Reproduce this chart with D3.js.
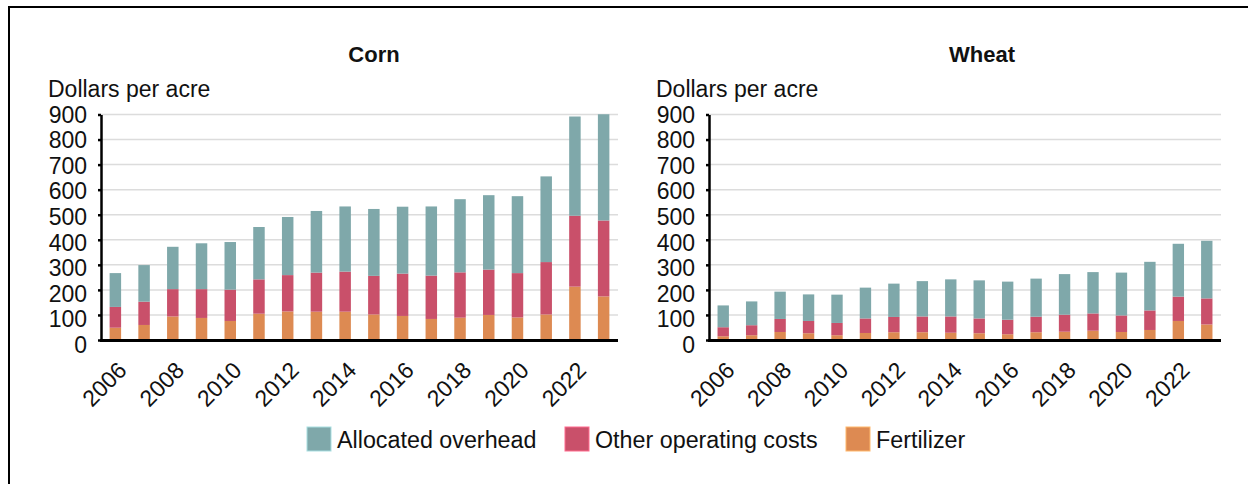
<!DOCTYPE html>
<meta charset="utf-8">
<style>
body { margin: 0; background: #fff; }
svg { display: block; font-family: "Liberation Sans", Arial, sans-serif; }
.grid line { stroke: #dcdcdc; stroke-width: 1.5px; }
.axis--y path, .axis--y line { stroke: #000; stroke-width: 2.5px; }
.baseline { stroke: #000; stroke-width: 3px; }
.ticklab, .xlab, .unit { font-size: 23px; fill: #111; }
.legend text { font-size: 23.3px; fill: #111; }
.title { font-size: 22px; font-weight: bold; fill: #111; }
</style>
<body>
<svg id="svg" width="1248" height="484"></svg>
<script src="https://cdnjs.cloudflare.com/ajax/libs/d3/7.8.5/d3.min.js"></script>
<script>

var years = [2006, 2007, 2008, 2009, 2010, 2011, 2012, 2013, 2014, 2015, 2016, 2017, 2018, 2019, 2020, 2021, 2022, 2023];
var yearLabels = [2006, 2008, 2010, 2012, 2014, 2016, 2018, 2020, 2022];
var yTicks = [0, 100, 200, 300, 400, 500, 600, 700, 800, 900];

var series = ["Fertilizer", "Other operating costs", "Allocated overhead"];
var legendOrder = ["Allocated overhead", "Other operating costs", "Fertilizer"];
var colors = ["#dd8a52", "#c9506a", "#7fa8aa"];

// corn, dollars per acre
var cornFertilizer = [49, 60, 94, 88, 76, 105, 114, 113, 113, 102, 96, 84, 89, 100, 90, 102, 213, 174];
var cornOther      = [83, 93, 109, 115, 125, 137, 145, 156, 160, 154, 169, 173, 181, 181, 177, 209, 283, 303];
var cornOverhead   = [135, 146, 169, 183, 190, 209, 232, 246, 260, 267, 267, 276, 292, 297, 307, 342, 396, 424];

// wheat, dollars per acre
var wheatFertilizer = [15, 19, 32, 27, 19, 28, 31, 31, 29, 27, 23, 31, 33, 37, 32, 40, 76, 62];
var wheatOther      = [36, 40, 52, 49, 49, 58, 61, 63, 65, 59, 58, 62, 68, 69, 66, 78, 97, 104];
var wheatOverhead   = [87, 95, 109, 106, 113, 123, 133, 141, 148, 152, 152, 152, 162, 165, 171, 194, 211, 230];

var svg = d3.select("svg");
var color = d3.scaleOrdinal().domain(series).range(colors);

// outer frame (bottom and right run off the picture)
svg.append("rect")
    .attr("x", 9).attr("y", 7)
    .attr("width", 1260).attr("height", 500)
    .attr("fill", "none").attr("stroke", "#000").attr("stroke-width", 2);

function panel(name, x0, x1, fert, other, over) {
  var top = 114.5, bottom = 340;

  var x = d3.scaleBand().domain(years).range([x0, x1]).paddingInner(0.6).paddingOuter(0.3),
      y = d3.scaleLinear().domain([0, 900]).range([bottom, top]),
      yLab = d3.scaleLinear().domain([0, 900]).range([bottom + 4.5, top]);

  var g = svg.append("g");

  g.append("text")
      .attr("class", "title")
      .attr("x", x0 + 273).attr("y", 62)
      .attr("text-anchor", "middle")
      .text(name);

  g.append("text")
      .attr("class", "unit")
      .attr("x", x0 - 53).attr("y", 97)
      .text("Dollars per acre");

  g.append("g")
      .attr("class", "grid")
    .selectAll("line")
    .data(yTicks.slice(1))
    .enter().append("line")
      .attr("x1", x0).attr("x2", x1)
      .attr("y1", function(d) { return y(d); })
      .attr("y2", function(d) { return y(d); });

  var rows = years.map(function(yr, i) {
    return {year: yr, "Fertilizer": fert[i], "Other operating costs": other[i], "Allocated overhead": over[i]};
  });
  var stack = d3.stack().keys(series)(rows);

  g.selectAll(".layer")
    .data(stack)
    .enter().append("g")
      .attr("class", "layer")
      .attr("fill", function(d) { return color(d.key); })
    .selectAll("rect")
    .data(function(d) { return d; })
    .enter().append("rect")
      .attr("x", function(d) { return x(d.data.year); })
      .attr("width", x.bandwidth())
      .attr("y", function(d) { return y(d[1]); })
      .attr("height", function(d) { return y(d[0]) - y(d[1]); });

  g.append("g")
      .attr("class", "axis axis--y")
      .attr("transform", "translate(" + x0 + ",0)")
      .call(d3.axisLeft(y).tickValues(yTicks).tickSize(3).tickSizeOuter(0).tickFormat(""));

  g.selectAll(".ticklab")
    .data(yTicks)
    .enter().append("text")
      .attr("class", "ticklab")
      .attr("x", x0 - 14)
      .attr("y", function(d) { return yLab(d); })
      .attr("dy", "0.36em")
      .attr("text-anchor", "end")
      .text(function(d) { return d; });

  g.append("line")
      .attr("class", "baseline")
      .attr("x1", x0 - 1).attr("x2", x1)
      .attr("y1", y(0) + 0.5).attr("y2", y(0) + 0.5);

  g.selectAll(".xlab")
    .data(yearLabels)
    .enter().append("text")
      .attr("class", "xlab")
      .attr("transform", function(d) {
        return "translate(" + (x(d) + x.bandwidth() / 2 + 1) + ",360) rotate(-45)";
      })
      .attr("dy", "0.72em")
      .attr("text-anchor", "end")
      .text(function(d) { return d; });
}

panel("Corn", 101, 618, cornFertilizer, cornOther, cornOverhead);
panel("Wheat", 709, 1221, wheatFertilizer, wheatOther, wheatOverhead);

// legend
var legendX = [307, 565, 846];
var legend = svg.append("g").attr("class", "legend")
  .selectAll("g")
  .data(legendOrder)
  .enter().append("g")
    .attr("transform", function(d, i) { return "translate(" + legendX[i] + ",427)"; });

legend.append("rect")
    .attr("width", 24).attr("height", 24)
    .attr("fill", function(d) { return color(d); })
    .attr("stroke", function(d) { return d3.color(color(d)).brighter(0.8); })
    .attr("stroke-width", 1);

legend.append("text")
    .attr("x", 30).attr("y", 20.5)
    .text(function(d) { return d; });

</script>
</body>
